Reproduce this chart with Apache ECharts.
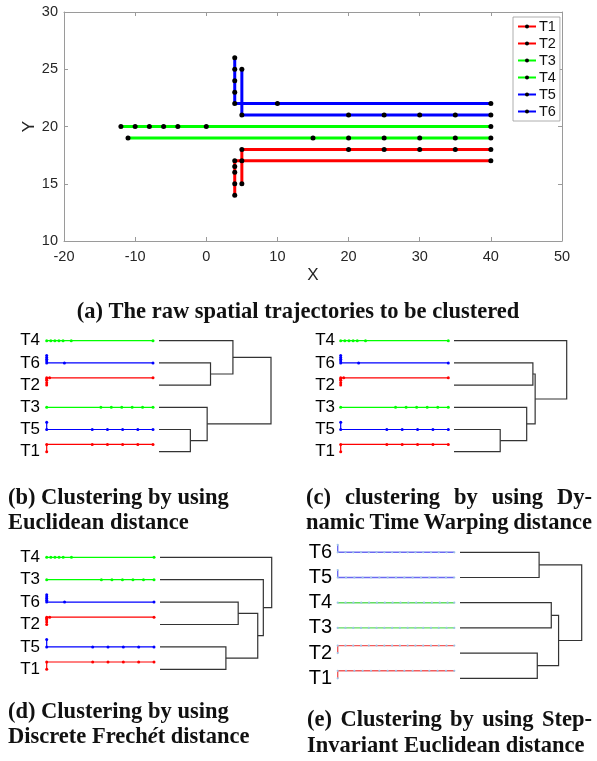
<!DOCTYPE html>
<html>
<head>
<meta charset="utf-8">
<script src="https://cdn.jsdelivr.net/npm/echarts@6/dist/echarts.min.js"></script>
<style>
  html, body { margin: 0; background: #fff; }
  #main { width: 597px; height: 761px; }
</style>
</head>
<body>
<div id="main"></div>
<script>
// raw trajectories, [x, y] in path order
const trajNames = ['T1', 'T2', 'T3', 'T4', 'T5', 'T6'];
const t1 = [[5, 15], [5, 18], [20, 18], [25, 18], [30, 18], [35, 18], [40, 18]];
const t2 = [[4, 14], [4, 15], [4, 16], [4, 16.5], [4, 17], [5, 17], [40, 17]];
const t3 = [[-11, 19], [15, 19], [20, 19], [25, 19], [30, 19], [35, 19], [40, 19]];
const t4 = [[-12, 20], [-10, 20], [-8, 20], [-6, 20], [-4, 20], [0, 20], [40, 20]];
const t5 = [[5, 25], [5, 21], [20, 21], [25, 21], [30, 21], [35, 21], [40, 21]];
const t6 = [[4, 26], [4, 25], [4, 24], [4, 23], [4, 22], [10, 22], [40, 22]];
const trajColors = ['#ff0000', '#ff0000', '#00ff00', '#00ff00', '#0000ff', '#0000ff'];

// step-invariant resampled trajectories (panel e)
const t1s = [[5, 15], [5, 18], [7.5, 18], [10, 18], [12.5, 18], [15, 18], [17.5, 18], [20, 18], [22.5, 18], [25, 18], [27.5, 18], [30, 18], [32.5, 18], [35, 18], [37.5, 18], [40, 18]];
const t2s = [[4, 14], [4, 17], [6.4, 17], [8.8, 17], [11.2, 17], [13.6, 17], [16, 17], [18.4, 17], [20.8, 17], [23.2, 17], [25.6, 17], [28, 17], [30.4, 17], [32.8, 17], [35.2, 17], [37.6, 17], [40, 17]];
const t3s = [[-11, 19], [-7.6, 19], [-4.2, 19], [-0.8, 19], [2.6, 19], [6, 19], [9.4, 19], [12.8, 19], [16.2, 19], [19.6, 19], [23, 19], [26.4, 19], [29.8, 19], [33.2, 19], [36.6, 19], [40, 19]];
const t4s = [[-12, 20], [-8.5, 20], [-5, 20], [-1.5, 20], [2, 20], [5.5, 20], [9, 20], [12.5, 20], [16, 20], [19.5, 20], [23, 20], [26.5, 20], [30, 20], [33.5, 20], [37, 20], [40, 20]];
const t5s = [[5, 25], [5, 21], [7.5, 21], [10, 21], [12.5, 21], [15, 21], [17.5, 21], [20, 21], [22.5, 21], [25, 21], [27.5, 21], [30, 21], [32.5, 21], [35, 21], [37.5, 21], [40, 21]];
const t6s = [[4, 26], [4, 22], [6.4, 22], [8.8, 22], [11.2, 22], [13.6, 22], [16, 22], [18.4, 22], [20.8, 22], [23.2, 22], [25.6, 22], [28, 22], [30.4, 22], [32.8, 22], [35.2, 22], [37.6, 22], [40, 22]];
const resampledColors = ['#f25c5c', '#f25c5c', '#62dc62', '#62dc62', '#6a6af2', '#6a6af2'];

// dendrograms: leaf order top to bottom, merges [a, b, height / root height]
const leavesB = ['T4', 'T6', 'T2', 'T3', 'T5', 'T1'];
const mergesB = [['T6', 'T2', 0.46], ['T5', 'T1', 0.28], ['T3', 'm1', 0.43], ['T4', 'm0', 0.66], ['m3', 'm2', 1]];
const leavesC = ['T4', 'T6', 'T2', 'T3', 'T5', 'T1'];
const mergesC = [['T6', 'T2', 0.70], ['T5', 'T1', 0.41], ['T3', 'm1', 0.645], ['m0', 'm2', 0.72], ['T4', 'm3', 1]];
const leavesD = ['T4', 'T3', 'T6', 'T2', 'T5', 'T1'];
const mergesD = [['T6', 'T2', 0.70], ['T5', 'T1', 0.59], ['m0', 'm1', 0.875], ['T3', 'm2', 0.925], ['T4', 'm3', 1]];
const leavesE = ['T6', 'T5', 'T4', 'T3', 'T2', 'T1'];
const mergesE = [['T6', 'T5', 0.65], ['T4', 'T3', 0.75], ['T2', 'T1', 0.635], ['m1', 'm2', 0.81], ['m0', 'm3', 1]];

const rawPaths = { T1: t1, T2: t2, T3: t3, T4: t4, T5: t5, T6: t6 };
const resPaths = { T1: t1s, T2: t2s, T3: t3s, T4: t4s, T5: t5s, T6: t6s };

const SANS = '"Liberation Sans", Arial, sans-serif';
const SERIF = '"Liberation Serif", "Times New Roman", serif';

// panel layout (pixels)
const panels = [
  { leaves: leavesB, merges: mergesB, paths: rawPaths, resampled: false, labelRight: 40, thumbL: 46.7, thumbR: 153, dendL: 159, dendR: 271, top: 340.7, bottom: 451.7, thumbH: 7.3, font: 17 },
  { leaves: leavesC, merges: mergesC, paths: rawPaths, resampled: false, labelRight: 335, thumbL: 340.7, thumbR: 448.3, dendL: 454, dendR: 566.7, top: 340.7, bottom: 451.7, thumbH: 7.3, font: 17 },
  { leaves: leavesD, merges: mergesD, paths: rawPaths, resampled: false, labelRight: 40, thumbL: 46.7, thumbR: 154, dendL: 160, dendR: 271.7, top: 557.3, bottom: 669.3, thumbH: 7.3, font: 17 },
  { leaves: leavesE, merges: mergesE, paths: resPaths, resampled: true, labelRight: 332, thumbL: 337.7, thumbR: 454.3, dendL: 460, dendR: 581.7, top: 552.3, bottom: 678.3, thumbH: 7.5, font: 20 }
];

const grid = [], xAxis = [], yAxis = [], series = [];

// (a) raw trajectories
grid.push({ left: 64, right: 35, top: 12, bottom: 520, outerBoundsMode: 'none' });
const axisCommon = {
  axisLine: { onZero: false, lineStyle: { color: '#9a9a9a', width: 1 } },
  axisTick: { inside: true, length: 4, lineStyle: { color: '#9a9a9a' } },
  splitLine: { show: false },
  axisLabel: { color: '#262626', fontSize: 14.5, fontFamily: SANS }
};
xAxis.push(Object.assign({}, axisCommon, {
  gridIndex: 0, type: 'value', min: -20, max: 50, interval: 10, position: 'bottom',
  name: 'X', nameLocation: 'middle', nameGap: 26, nameMoveOverlap: false,
  nameTextStyle: { color: '#262626', fontSize: 17, fontFamily: SANS },
  axisLabel: Object.assign({}, axisCommon.axisLabel, { margin: 8 })
}));
xAxis.push(Object.assign({}, axisCommon, {
  gridIndex: 0, type: 'value', min: -20, max: 50, interval: 10, position: 'top',
  axisLabel: { show: false }
}));
yAxis.push(Object.assign({}, axisCommon, {
  gridIndex: 0, type: 'value', min: 10, max: 30, interval: 5, position: 'left',
  name: 'Y', nameLocation: 'middle', nameGap: 26, nameMoveOverlap: false,
  nameTextStyle: { color: '#262626', fontSize: 17, fontFamily: SANS },
  axisLabel: Object.assign({}, axisCommon.axisLabel, { margin: 6 })
}));
yAxis.push(Object.assign({}, axisCommon, {
  gridIndex: 0, type: 'value', min: 10, max: 30, interval: 5, position: 'right',
  axisLabel: { show: false }
}));
trajNames.forEach((n, i) => {
  series.push({
    name: n, type: 'line', xAxisIndex: 0, yAxisIndex: 0, data: rawPaths[n],
    symbol: 'circle', symbolSize: 5, showAllSymbol: true,
    itemStyle: { color: '#000' },
    lineStyle: { color: trajColors[i], width: 3 },
    z: 3
  });
});

function dendroSegments(leaves, merges) {
  const pos = {};
  leaves.forEach((n, i) => { pos[n] = { x: 0, y: i }; });
  return merges.map((m, k) => {
    const a = pos[m[0]], b = pos[m[1]], h = m[2];
    pos['m' + k] = { x: h, y: (a.y + b.y) / 2 };
    return { coords: [[a.x, a.y], [h, a.y], [h, b.y], [b.x, b.y]] };
  });
}

panels.forEach((p, pi) => {
  // dendrogram
  let gi = grid.length;
  grid.push({ left: p.dendL, width: p.dendR - p.dendL, top: p.top, height: p.bottom - p.top, outerBoundsMode: 'none' });
  xAxis.push({ gridIndex: gi, type: 'value', min: 0, max: 1, show: false });
  yAxis.push({
    gridIndex: gi, type: 'value', min: 0, max: 5, interval: 1, inverse: true,
    axisLine: { show: false }, axisTick: { show: false }, splitLine: { show: false },
    axisLabel: {
      margin: p.dendL - p.labelRight, color: '#000', fontSize: p.font, fontFamily: SANS,
      formatter: v => p.leaves[v] || ''
    }
  });
  series.push({
    type: 'lines', coordinateSystem: 'cartesian2d', xAxisIndex: xAxis.length - 1, yAxisIndex: yAxis.length - 1,
    polyline: true, clip: false, silent: true,
    lineStyle: { color: '#333', width: 1.2, opacity: 1 },
    data: dendroSegments(p.leaves, p.merges)
  });

  // trajectory thumbnails beside each leaf
  const step = (p.bottom - p.top) / (p.leaves.length - 1);
  p.leaves.forEach((n, li) => {
    const pts = p.paths[n];
    const xs = pts.map(d => d[0]), ys = pts.map(d => d[1]);
    const ymin = Math.min(...ys), ymax = Math.max(...ys);
    const ci = trajNames.indexOf(n);
    const rowY = p.top + li * step;
    gi = grid.length;
    grid.push({ left: p.thumbL, width: p.thumbR - p.thumbL, top: rowY - p.thumbH, height: p.thumbH, outerBoundsMode: 'none' });
    xAxis.push({ gridIndex: gi, type: 'value', min: Math.min(...xs), max: Math.max(...xs), show: false });
    yAxis.push({ gridIndex: gi, type: 'value', min: ymin, max: ymax > ymin ? ymax : ymin + 1, show: false });
    series.push({
      name: 'thumb-' + pi + '-' + n, type: 'line', xAxisIndex: xAxis.length - 1, yAxisIndex: yAxis.length - 1,
      data: pts, symbol: 'circle', showAllSymbol: true, clip: false, silent: true,
      symbolSize: p.resampled ? 2.2 : 3,
      itemStyle: { color: p.resampled ? '#9dc3e6' : trajColors[ci] },
      lineStyle: { color: p.resampled ? resampledColors[ci] : trajColors[ci], width: p.resampled ? 1.4 : 1.2 }
    });
  });
});

// captions
const CAP_SIZE = 22.5;
const CAP_FONT = 'bold ' + CAP_SIZE + 'px ' + SERIF;
const measureCtx = document.createElement('canvas').getContext('2d');
function textWidth(t, font) { measureCtx.font = font; return measureCtx.measureText(t).width; }
function capText(text, x, y, align) {
  return { type: 'text', x: x, y: y, style: { text: text, font: CAP_FONT, fill: '#111', textAlign: align || 'left', textVerticalAlign: 'middle' } };
}
function justified(line, x0, x1, y) {
  const words = line.split(' ');
  const widths = words.map(w => textWidth(w, CAP_FONT));
  const gap = (x1 - x0 - widths.reduce((a, b) => a + b, 0)) / (words.length - 1);
  let x = x0;
  return words.map((w, i) => { const el = capText(w, x, y); x += widths[i] + gap; return el; });
}

const graphic = [
  capText('(a) The raw spatial trajectories to be clustered', 298, 312, 'center'),
  capText('(b) Clustering by using', 8, 498),
  capText('Euclidean distance', 8, 523),
  ...justified('(c) clustering by using Dy-', 306, 592, 498),
  ...justified('namic Time Warping distance', 306, 592, 523),
  capText('(d) Clustering by using', 8, 712),
  {
    type: 'text', x: 8, y: 737,
    style: {
      text: '{n|Discrete Frech}{i|é}{n|t distance}', textVerticalAlign: 'middle',
      rich: {
        n: { font: CAP_FONT, fill: '#111' },
        i: { font: 'italic bold ' + CAP_SIZE + 'px ' + SERIF, fill: '#111' }
      }
    }
  },
  ...justified('(e) Clustering by using Step-', 307, 592, 720),
  capText('Invariant Euclidean distance', 307, 746)
];

const chart = echarts.init(document.getElementById('main'), null, { renderer: 'canvas' });
chart.setOption({
  animation: false,
  backgroundColor: '#fff',
  legend: {
    data: trajNames, orient: 'vertical', left: 513, top: 17,
    padding: [2, 4, 2, 4], itemGap: 2, itemWidth: 18, itemHeight: 5,
    backgroundColor: '#fff', borderColor: '#9a9a9a', borderWidth: 0.8, borderRadius: 0,
    textStyle: { color: '#111', fontSize: 14.5, fontFamily: SANS, padding: [0, 0, 0, -2] }
  },
  grid: grid, xAxis: xAxis, yAxis: yAxis, series: series, graphic: graphic
});
</script>
</body>
</html>
